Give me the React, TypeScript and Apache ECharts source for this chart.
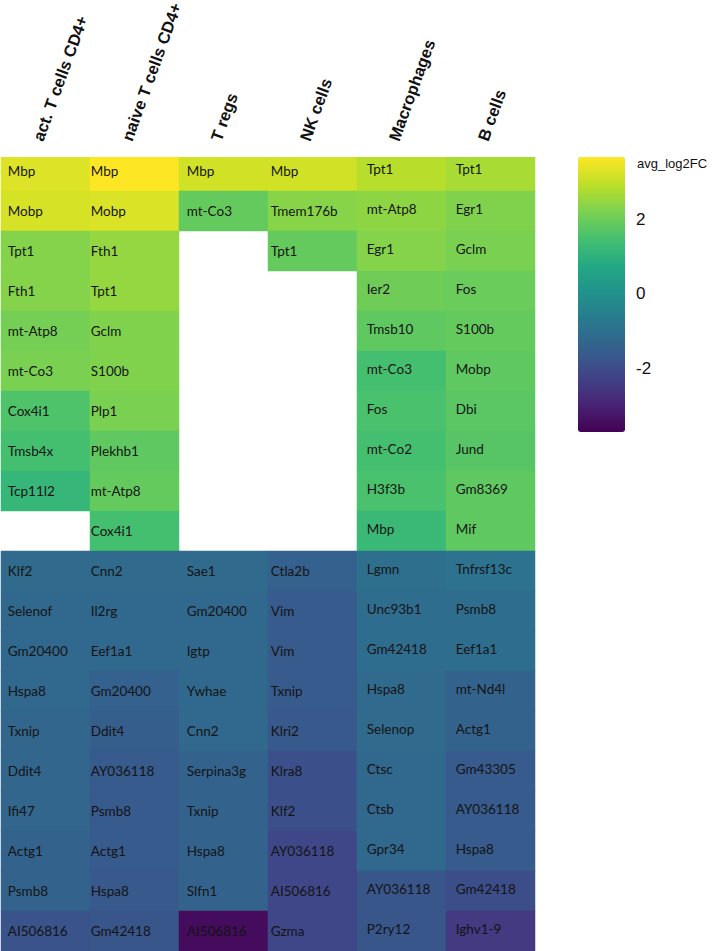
import React, { useEffect, useRef } from "react";
import * as echarts from "echarts";

// Cell types (columns)
const cellTypes = [
  "act. T cells CD4+",
  "naive T cells CD4+",
  "T regs",
  "NK cells",
  "Macrophages",
  "B cells",
];

// Gene names per column, rows 0-9 up-regulated, rows 10-19 down-regulated (null = empty)
const genesActT = ["Mbp", "Mobp", "Tpt1", "Fth1", "mt-Atp8", "mt-Co3", "Cox4i1", "Tmsb4x", "Tcp11l2", null,
  "Klf2", "Selenof", "Gm20400", "Hspa8", "Txnip", "Ddit4", "Ifi47", "Actg1", "Psmb8", "AI506816"];
const genesNaiveT = ["Mbp", "Mobp", "Fth1", "Tpt1", "Gclm", "S100b", "Plp1", "Plekhb1", "mt-Atp8", "Cox4i1",
  "Cnn2", "Il2rg", "Eef1a1", "Gm20400", "Ddit4", "AY036118", "Psmb8", "Actg1", "Hspa8", "Gm42418"];
const genesTregs = ["Mbp", "mt-Co3", null, null, null, null, null, null, null, null,
  "Sae1", "Gm20400", "Igtp", "Ywhae", "Cnn2", "Serpina3g", "Txnip", "Hspa8", "Slfn1", "AI506816"];
const genesNK = ["Mbp", "Tmem176b", "Tpt1", null, null, null, null, null, null, null,
  "Ctla2b", "Vim", "Vim", "Txnip", "Klri2", "Klra8", "Klf2", "AY036118", "AI506816", "Gzma"];
const genesMacro = ["Tpt1", "mt-Atp8", "Egr1", "Ier2", "Tmsb10", "mt-Co3", "Fos", "mt-Co2", "H3f3b", "Mbp",
  "Lgmn", "Unc93b1", "Gm42418", "Hspa8", "Selenop", "Ctsc", "Ctsb", "Gpr34", "AY036118", "P2ry12"];
const genesB = ["Tpt1", "Egr1", "Gclm", "Fos", "S100b", "Mobp", "Dbi", "Jund", "Gm8369", "Mif",
  "Tnfrsf13c", "Psmb8", "Eef1a1", "mt-Nd4l", "Actg1", "Gm43305", "AY036118", "Hspa8", "Gm42418", "Ighv1-9"];

// avg_log2FC per column (estimated from colours)
const fcActT = [3.33, 3.25, 2.34, 2.34, 2.16, 2.23, 1.64, 1.5, 1.2, null,
  -1.1, -1.18, -1.18, -1.18, -1.25, -1.25, -1.25, -1.32, -1.32, -1.77];
const fcNaiveT = [3.7, 3.3, 2.52, 2.52, 2.3, 2.3, 2.23, 1.86, 1.94, 1.5,
  -1.1, -1.18, -1.18, -1.4, -1.47, -1.55, -1.55, -1.55, -1.62, -1.69];
const fcTregs = [3.18, 1.94, null, null, null, null, null, null, null, null,
  -1.1, -1.18, -1.18, -1.18, -1.18, -1.32, -1.32, -1.32, -1.32, -3.45];
const fcNK = [3.18, 2.38, 1.94, null, null, null, null, null, null, null,
  -1.4, -1.55, -1.55, -1.55, -1.62, -1.84, -1.84, -2.1, -2.1, -2.1];
const fcMacro = [2.89, 2.45, 2.34, 2.08, 1.86, 1.5, 1.57, 1.5, 1.57, 1.27,
  -0.96, -1.03, -1.03, -1.1, -1.1, -1.18, -1.18, -1.18, -1.69, -1.69];
const fcB = [2.74, 2.3, 2.23, 2.01, 1.94, 1.86, 1.79, 1.75, 1.86, 1.86,
  -0.88, -1.03, -1.03, -1.32, -1.32, -1.55, -1.55, -1.55, -1.9, -2.4];

// Colour bar
const scaleMin = -3.65;
const scaleMax = 3.7;
const legendTicks = [2, 0, -2];
const legendTitle = "avg_log2FC";

const viridis = ["#440154", "#482475", "#414487", "#355f8d", "#2a788e", "#21918c",
  "#22a884", "#44bf70", "#7ad151", "#bddf26", "#fde725"];

const geneCols = [genesActT, genesNaiveT, genesTregs, genesNK, genesMacro, genesB];
const fcCols = [fcActT, fcNaiveT, fcTregs, fcNK, fcMacro, fcB];

// label styling per column (text inset from cell's left edge, vertical nudge)
const colTextInset = [7, 1, 8, 3, 10, 10];
const colTextNudge = [0, 0, 0, 0, -2, -2];

const W = 714;
const H = 951;
const gridLeft = 1;
const gridTop = 151;
const gridW = 534;
const gridH = 800;
const visibleTop = 157;
const barLeft = 578;
const barTop = 157;
const barW = 47;
const barH = 275;

export default function App() {
  const ref = useRef<HTMLDivElement>(null);

  useEffect(() => {
    if (!ref.current) return;
    const chart = echarts.init(ref.current, undefined, { renderer: "svg" });
    const rows = geneCols[0].map((_, i) => String(i));

    const data: any[] = [];
    fcCols.forEach((col, c) => {
      col.forEach((v, r) => {
        if (v === null || v === undefined) return;
        data.push({
          value: [c, r, v],
          gene: geneCols[c][r],
          label: { offset: [colTextInset[c], colTextNudge[c]] },
        });
      });
    });

    const tickTexts = legendTicks.map((t) => ({
      type: "text",
      left: 636,
      top: barTop + ((scaleMax - t) / (scaleMax - scaleMin)) * barH - 10,
      style: {
        text: String(t),
        fontFamily: "Liberation Sans, Arial, sans-serif",
        fontSize: 17,
        fill: "#111",
      },
    }));

    chart.setOption({
      animation: false,
      backgroundColor: "#ffffff",
      grid: {
        left: gridLeft,
        top: gridTop,
        width: gridW,
        height: gridH,
        containLabel: false,
        outerBoundsMode: "none",
      },
      xAxis: {
        type: "category",
        data: cellTypes,
        position: "top",
        axisLine: { show: false },
        axisTick: { show: false },
        splitLine: { show: false },
        axisLabel: {
          interval: 0,
          rotate: -70,
          margin: 8,
          verticalAlign: "bottom",
          fontFamily: "Liberation Sans, Arial, sans-serif",
          fontWeight: "bold",
          fontSize: 16.5,
          color: "#111",
        },
      },
      yAxis: {
        type: "category",
        data: rows,
        inverse: true,
        show: false,
      },
      visualMap: {
        type: "continuous",
        min: scaleMin,
        max: scaleMax,
        orient: "vertical",
        left: barLeft,
        top: barTop,
        itemWidth: barW,
        itemHeight: barH,
        padding: 0,
        calculable: false,
        hoverLink: false,
        inRange: { color: viridis },
        seriesIndex: 0,
      },
      graphic: [
        {
          type: "rect",
          shape: { x: 0, y: gridTop - 2, width: gridLeft + gridW + 3, height: visibleTop - gridTop + 2 },
          style: { fill: "#ffffff" },
          z: 100,
        },
        {
          type: "text",
          left: 637,
          top: 157,
          style: {
            text: legendTitle,
            fontFamily: "Liberation Sans, Arial, sans-serif",
            fontSize: 13,
            fill: "#111",
          },
        },
        ...tickTexts,
      ],
      series: [
        {
          type: "heatmap",
          data,
          itemStyle: { borderWidth: 0 },
          emphasis: { disabled: true },
          label: {
            show: true,
            position: "insideLeft",
            distance: 0,
            fontFamily: "Lato, 'Noto Sans', sans-serif",
            fontSize: 13.5,
            color: "#141414",
            formatter: (p: any) => p.data.gene,
          },
        },
      ],
    });

    return () => chart.dispose();
  }, []);

  return (
    <div
      ref={ref}
      style={{ position: "absolute", left: 0, top: 0, width: W, height: H }}
    />
  );
}
